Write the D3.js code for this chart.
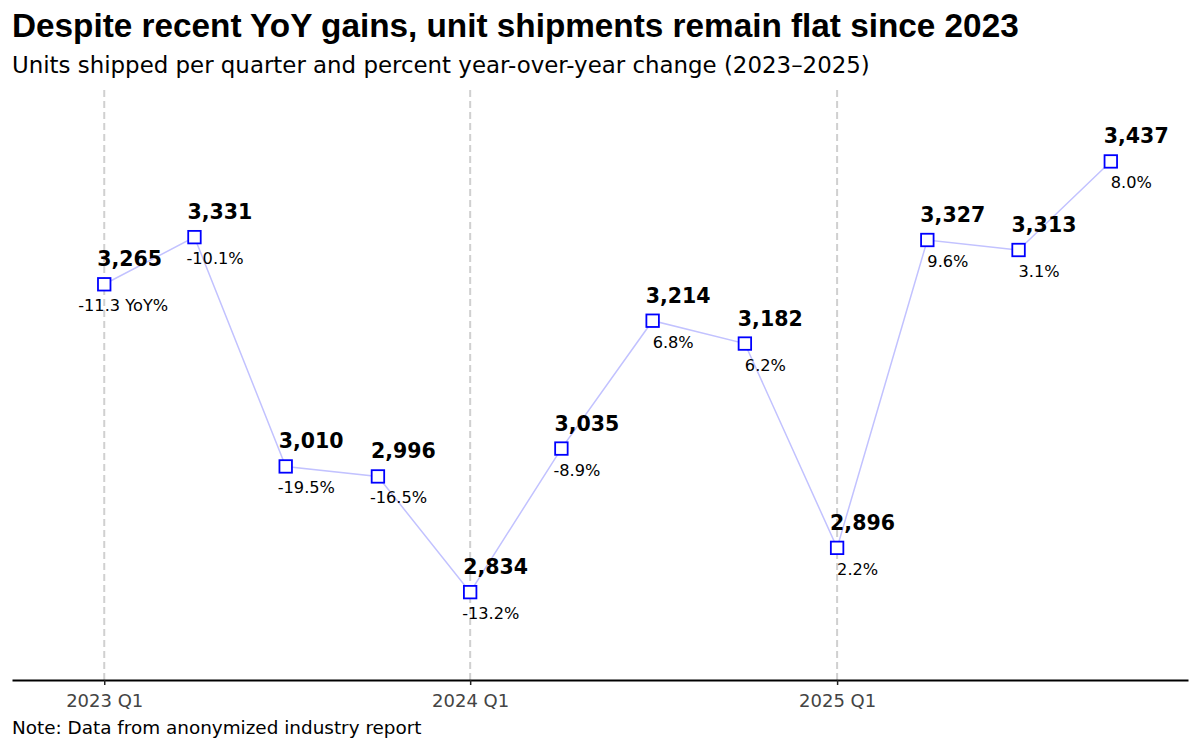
<!DOCTYPE html>
<html>
<head>
<meta charset="utf-8">
<script src="https://cdn.jsdelivr.net/npm/d3@7"></script>
<style>
  body { margin: 0; background: #fff; }
  svg { display: block; }
</style>
</head>
<body>
<div id="chart"></div>
<script>
var quarters = ["2023-01-01", "2023-04-01", "2023-07-01", "2023-10-01",
                "2024-01-01", "2024-04-01", "2024-07-01", "2024-10-01",
                "2025-01-01", "2025-04-01", "2025-07-01", "2025-10-01"];
var units = [3265, 3331, 3010, 2996, 2834, 3035, 3214, 3182, 2896, 3327, 3313, 3437];
var yoy = [-11.3, -10.1, -19.5, -16.5, -13.2, -8.9, 6.8, 6.2, 2.2, 9.6, 3.1, 8.0];
var tickDates = ["2023-01-01", "2024-01-01", "2025-01-01"];
var tickLabels = ["2023 Q1", "2024 Q1", "2025 Q1"];

var width = 1200, height = 750;
var margin = {top: 90, right: 12, bottom: 70, left: 12};
var parse = d3.timeParse("%Y-%m-%d");

var data = quarters.map(function(q, i) {
  return {date: parse(q), units: units[i], yoy: yoy[i], i: i};
});

var svg = d3.select("#chart").append("svg")
    .attr("width", width)
    .attr("height", height);

var xScale = d3.scaleTime()
    .domain([parse("2022-10-01"), parse("2025-12-17")])
    .range([margin.left, width - margin.right]);

var yScale = d3.scaleLinear()
    .domain([2711, 3537])
    .range([height - margin.bottom, margin.top]);

// title block
svg.append("text")
    .attr("x", 12).attr("y", 37)
    .attr("font-family", "Liberation Sans, Arial, sans-serif")
    .attr("font-weight", "bold")
    .attr("font-size", 33.3)
    .text("Despite recent YoY gains, unit shipments remain flat since 2023");

svg.append("text")
    .attr("x", 12).attr("y", 73)
    .attr("font-family", "DejaVu Sans, sans-serif")
    .attr("font-size", 22.9)
    .text("Units shipped per quarter and percent year-over-year change (2023\u20132025)");

// year gridlines
svg.append("g").selectAll("line")
    .data(tickDates)
    .enter().append("line")
    .attr("x1", function(d) { return xScale(parse(d)); })
    .attr("x2", function(d) { return xScale(parse(d)); })
    .attr("y1", margin.top)
    .attr("y2", height - margin.bottom)
    .attr("stroke", "#d0d0d0")
    .attr("stroke-width", 2)
    .attr("stroke-dasharray", "7,4");

// x axis
var xAxis = d3.axisBottom(xScale)
    .tickValues(tickDates.map(parse))
    .tickFormat(function(d, i) { return tickLabels[i]; })
    .tickSize(5)
    .tickSizeOuter(0)
    .tickPadding(9);

var gx = svg.append("g")
    .attr("transform", "translate(0," + (height - margin.bottom) + ")")
    .call(xAxis);
gx.select(".domain").attr("stroke", "#000").attr("stroke-width", 2);
gx.selectAll(".tick line").attr("stroke", "#222").attr("stroke-width", 1.5);
gx.selectAll(".tick text")
    .attr("font-family", "DejaVu Sans, sans-serif")
    .attr("font-size", 18)
    .attr("fill", "#444");

// line
var line = d3.line()
    .x(function(d) { return xScale(d.date); })
    .y(function(d) { return yScale(d.units); });

svg.append("path")
    .datum(data)
    .attr("fill", "none")
    .attr("stroke", "#c2c2ff")
    .attr("stroke-width", 1.5)
    .attr("d", line);

// markers
svg.append("g").selectAll("rect")
    .data(data)
    .enter().append("rect")
    .attr("x", function(d) { return xScale(d.date) - 6.25; })
    .attr("y", function(d) { return yScale(d.units) - 6.25; })
    .attr("width", 12.5)
    .attr("height", 12.5)
    .attr("fill", "#fff")
    .attr("stroke", "#0000ff")
    .attr("stroke-width", 1.8);

// value labels
svg.append("g").selectAll("text")
    .data(data)
    .enter().append("text")
    .attr("x", function(d) { return xScale(d.date) - 7; })
    .attr("y", function(d) { return yScale(d.units) - 18; })
    .attr("font-family", "DejaVu Sans, sans-serif")
    .attr("font-weight", "bold")
    .attr("font-size", 20.5)
    .text(function(d) { return d3.format(",")(d.units); });

// yoy labels
svg.append("g").selectAll("text")
    .data(data)
    .enter().append("text")
    .attr("x", function(d) {
      if (d.i === 0) return xScale(d.date) - 26;
      return xScale(d.date) - (d.yoy < 0 ? 8 : 0);
    })
    .attr("y", function(d) { return yScale(d.units) + 27; })
    .attr("font-family", "DejaVu Sans, sans-serif")
    .attr("font-size", 16.2)
    .text(function(d) {
      return d.i === 0 ? d.yoy.toFixed(1) + " YoY%" : d.yoy.toFixed(1) + "%";
    });

// note
svg.append("text")
    .attr("x", 12).attr("y", 734)
    .attr("font-family", "DejaVu Sans, sans-serif")
    .attr("font-size", 18.4)
    .text("Note: Data from anonymized industry report");
</script>
</body>
</html>
